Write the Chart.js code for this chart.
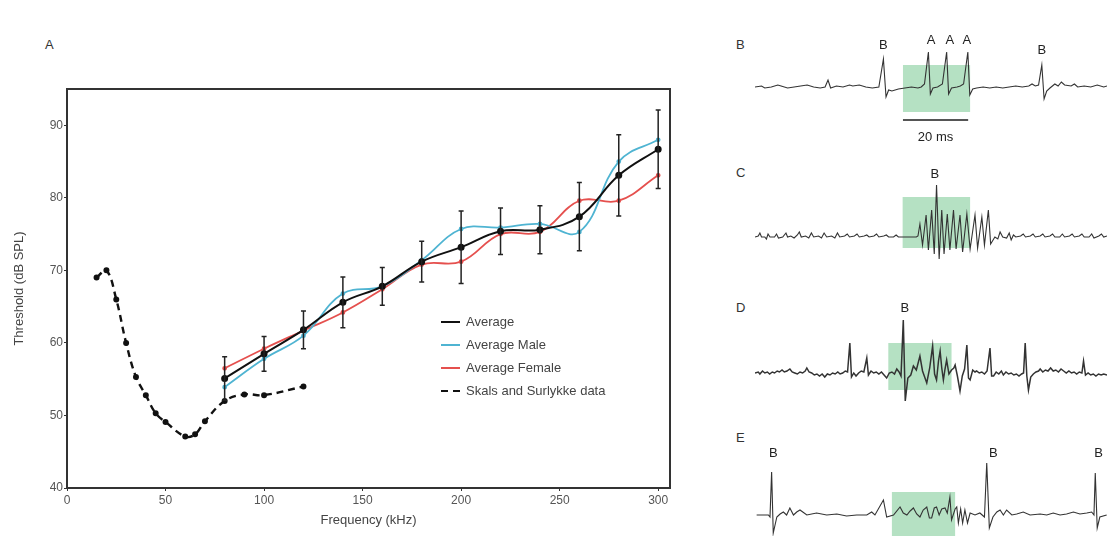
<!DOCTYPE html>
<html>
<head>
<meta charset="utf-8">
<script src="https://cdn.jsdelivr.net/npm/chart.js@4/dist/chart.umd.min.js"></script>
<style>
    body { margin: 0; background: #fff; width: 1107px; height: 536px; position: relative; overflow: hidden; font-family: Arial, "Liberation Sans", sans-serif; }
    canvas { position: absolute; }
    .panel { position: absolute; font-size: 13px; color: #333; }
</style>
</head>
<body>
<div class="panel" style="left:45px; top:37px;">A</div>
<div class="panel" style="left:736px; top:37px;">B</div>
<div class="panel" style="left:736px; top:165px;">C</div>
<div class="panel" style="left:736px; top:300px;">D</div>
<div class="panel" style="left:736px; top:430px;">E</div>

<canvas id="chart-a" width="720" height="536" style="left:0; top:0;"></canvas>
<canvas id="trace-b" width="352" height="120" style="left:755px; top:30px;"></canvas>
<canvas id="trace-c" width="352" height="120" style="left:755px; top:160px;"></canvas>
<canvas id="trace-d" width="352" height="130" style="left:755px; top:280px;"></canvas>
<canvas id="trace-e" width="352" height="126" style="left:755px; top:410px;"></canvas>

<script>
// panel A: hearing thresholds (kHz / dB SPL)
var freq = [80, 100, 120, 140, 160, 180, 200, 220, 240, 260, 280, 300];
var avgThreshold = [55.1, 58.5, 61.8, 65.6, 67.8, 71.2, 73.2, 75.4, 75.6, 77.4, 83.1, 86.7];
var avgSD = [3.0, 2.4, 2.6, 3.5, 2.6, 2.8, 5.0, 3.2, 3.3, 4.7, 5.6, 5.4];
var maleThreshold = [53.9, 57.8, 61.0, 66.8, 67.8, 71.4, 75.7, 75.9, 76.4, 75.3, 85.0, 88.0];
var femaleThreshold = [56.5, 59.2, 61.7, 64.2, 67.4, 70.8, 71.2, 75.0, 75.3, 79.6, 79.6, 83.1];
var skalsFreq = [15, 20, 25, 30, 35, 40, 45, 50, 60, 65, 70, 80, 90, 100, 120];
var skalsThreshold = [69, 70, 66, 60, 55.3, 52.8, 50.3, 49.1, 47.1, 47.4, 49.2, 52, 52.9, 52.8, 54];
var xTicks = [0, 50, 100, 150, 200, 250, 300];
var yTicks = [40, 50, 60, 70, 80, 90];

// panels B-E: recordings, time in ms, amplitude in arbitrary units
var traceB = [[0,0],[2,1],[3,-1],[5,0],[7,2],[8,1],[10,-1],[12,0],[14,1],[16,2],[18,0],[20,-1],[21.5,0],[22.4,7],[23.2,-1],[25,1],[27,0],[29,2],[30,1],[32,2],[34,0],[36,-1],[38,0],[39.4,28],[40.2,-10],[41,-3],[42,-4],[44,-2],[46,-1],[48,0],[50,-1],[51,0],[52,3],[53.2,35],[53.8,-7],[54.6,-1],[56,0],[57.5,3],[58.8,35],[59.4,-7],[60.3,-1],[62,0],[63,1],[64,3],[65.3,35],[65.9,-8],[66.8,-2],[68,-1],[70,0],[72,-1],[74,0],[76,-1],[78,0],[80,1],[82,0],[84,1],[85,3],[86,1],[87,2],[88,22],[88.7,-12],[89.5,-4],[90.5,-1],[92,3],[93,1],[94,5],[95,2],[97,1],[98,3],[99,0],[101,1],[103,0],[105,2],[107,0],[108,1]];
var traceC = [[0,0],[1,1],[1.5,4],[2,0],[3,0],[3.5,-2],[4,3],[4.6,0],[6,0],[6.6,3],[7.2,-1],[8.5,0],[9.5,4],[10,0],[11,1],[12,-1],[13,2],[13.6,5],[14.2,0],[15.5,1],[16.5,-1],[17.3,4],[18,0],[19.5,1],[20.4,-1],[21.2,4],[22,0],[23.5,1],[24.5,-1],[25.3,4],[26,0],[27.5,1],[28.3,3],[29,0],[30.5,1],[31.3,3],[32,0],[33.5,1],[34.3,2],[35,0],[36.5,1],[37.3,3],[38,0],[39.5,1],[40.3,2],[41,0],[42.5,0],[43.3,2],[44,0],[45.5,0],[49.5,0],[50,1],[50.6,13],[51.4,-8],[52.5,22],[53.2,-13],[54.2,27],[55,-17],[55.7,52],[56.5,-22],[57.3,27],[58,-17],[59,23],[59.8,-13],[60.9,27],[61.7,-12],[62.9,22],[63.7,-15],[65,23],[66,-12],[67.5,22],[68.3,-11],[69.6,20],[70.4,-8],[71.6,27],[72.3,-7],[73.6,0],[74.5,-2],[75.2,5],[76,0],[77.2,-1],[78,4],[78.6,-3],[79.3,2],[80,0],[81.5,1],[82.3,3],[83,0],[84.5,1],[85.3,3],[86,0],[87.5,1],[88.3,3],[89,0],[90.5,1],[91.3,3],[92,0],[93.5,0],[94.3,3],[95,0],[96.5,1],[97.3,3],[98,0],[99.5,1],[100.3,3],[101,0],[102.5,0],[103.3,3],[104,-1],[105.5,1],[106.3,3],[107,0],[108,1]];
var traceD = [[0,0],[1,1],[1.5,-1],[2.3,2],[3,0],[3.8,1],[4.5,-1],[5.3,1],[6,0],[6.8,2],[7.5,1],[8.3,3],[9,1],[9.8,2],[10.7,4],[11.4,1],[12.2,0],[13,-1],[13.8,1],[14.6,0],[15.4,2],[15.9,5],[16.6,1],[17.4,0],[18.2,-2],[19,-1],[19.8,-3],[20.6,-1],[21.4,-4],[22.2,-1],[23,-2],[23.8,0],[24.6,-1],[25.4,1],[26.1,-1],[26.9,0],[27.7,2],[28.4,1],[29.1,30],[29.6,-4],[30.3,0],[31,-3],[31.8,0],[32.6,2],[33.4,1],[34.3,15],[34.8,-2],[35.6,2],[36.4,0],[37.2,1],[38,-1],[38.8,1],[39.6,-2],[40.4,-5],[41.2,0],[42,1],[42.8,-1],[43.5,4],[44.2,1],[44.8,-3],[45.5,53],[46.1,-28],[46.9,-5],[47.8,-2],[48.6,7],[49.5,3],[50.6,17],[51.4,2],[52.7,-10],[53.6,5],[54.5,27],[55.1,-1],[55.7,-7],[56.3,12],[56.8,22],[57.3,5],[57.8,-7],[58.3,4],[58.8,13],[59.5,-1],[60.3,3],[61,5],[61.4,8],[62.1,-3],[62.9,-18],[63.6,-3],[64.3,4],[65,28],[65.5,-5],[66,-7],[66.8,3],[67.5,1],[68,2],[68.8,0],[69.6,1],[70.4,-1],[71.2,2],[72.1,25],[72.6,-3],[73.2,-3],[74,1],[74.8,-1],[75.6,2],[76.2,-2],[77,1],[77.8,-1],[78.6,0],[79.4,-2],[80.2,-1],[81,-3],[81.8,-1],[82.4,0],[82.9,30],[83.4,-3],[83.9,-17],[84.6,-4],[85.4,-1],[86.2,1],[87,2],[87.5,4],[88.3,1],[89.1,3],[89.9,2],[90.7,5],[91.5,2],[92.3,3],[93.1,1],[93.9,4],[94.7,2],[95.5,0],[96.3,2],[97.1,0],[97.9,1],[98.7,-1],[99.5,1],[100.3,0],[100.8,12],[101.4,-2],[102.2,0],[103,-2],[103.8,-1],[104.6,-3],[105.4,-1],[106.2,-2],[107,-1],[108,-2]];
var traceE = [[0.5,0],[4.1,0],[4.6,-2],[5.1,43],[5.6,-18],[6.7,-2],[7.7,1],[8.7,3],[9.7,0],[10.7,7],[11.8,0],[12.8,3],[13.8,5],[15.9,0],[18.9,2],[22,0],[25.1,1],[28.1,-1],[31.2,0],[34.3,0],[35.8,3],[36.8,0],[39.4,15],[40.4,-2],[42.5,0],[44.5,8],[45.5,2],[46.6,0],[47.6,4],[48.6,7],[49.6,1],[50.6,-2],[51.6,5],[52.7,8],[53.5,-3],[54.2,-3],[55,7],[55.7,8],[56.5,0],[57.3,6],[58.3,7],[59,2],[59.8,18],[60.3,-5],[61.4,6],[61.9,8],[62.4,-8],[63.1,6],[63.7,-8],[64.4,5],[65.2,-8],[66,2],[67.5,0],[69,2],[70.4,-2],[71.1,52],[71.9,-13],[73,-2],[74.2,3],[75.2,5],[76.2,0],[77.2,5],[78.8,0],[80.3,1],[82.3,3],[84.4,0],[87.5,1],[89.5,0],[91.5,2],[93.6,0],[95.6,1],[97.7,3],[99.7,1],[101.8,2],[103.3,3],[104,0],[104.4,42],[105,-13],[105.8,-2],[107.9,0]];

// stimulus windows [start ms, end ms, top, bottom]
var windowB = [45.4, 66, 22, -25];
var windowC = [45.3, 66, 40, -11];
var windowD = [40.9, 60.3, 30, -17];
var windowE = [42.0, 61.4, 23, -21];

// spike labels [ms, height, text]
var labelsB = [[39.4, 42, "B"], [54, 47, "A"], [59.8, 47, "A"], [65, 47, "A"], [88, 37, "B"]];
var labelsC = [[55.2, 63, "B"]];
var labelsD = [[46, 65, "B"]];
var labelsE = [[5.6, 62, "B"], [73.1, 62, "B"], [105.4, 62, "B"]];

var scaleBarB = [45.4, 65.4, -33];   // 20 ms bar

var FONT = 'Arial, "Liberation Sans", sans-serif';

function pts(xs, ys) {
    return xs.map(function (x, i) { return { x: x, y: ys[i] }; });
}

var errorBars = {
    id: "errorBars",
    afterDatasetsDraw: function (chart) {
        var ctx = chart.ctx, x = chart.scales.x, y = chart.scales.y;
        ctx.save();
        ctx.strokeStyle = "#222";
        ctx.lineWidth = 1.5;
        for (var i = 0; i < freq.length; i++) {
            var px = x.getPixelForValue(freq[i]);
            var top = y.getPixelForValue(avgThreshold[i] + avgSD[i]);
            var bot = y.getPixelForValue(avgThreshold[i] - avgSD[i]);
            ctx.beginPath();
            ctx.moveTo(px, top); ctx.lineTo(px, bot);
            ctx.moveTo(px - 2.5, top); ctx.lineTo(px + 2.5, top);
            ctx.moveTo(px - 2.5, bot); ctx.lineTo(px + 2.5, bot);
            ctx.stroke();
        }
        ctx.restore();
    }
};

var frameAndLegend = {
    id: "frameAndLegend",
    afterDraw: function (chart) {
        var ctx = chart.ctx, a = chart.chartArea;
        ctx.save();
        ctx.strokeStyle = "#333";
        ctx.lineWidth = 2;
        ctx.strokeRect(a.left, a.top, a.right - a.left, a.bottom - a.top);
        // legend
        ctx.font = "13px " + FONT;
        ctx.textBaseline = "middle";
        chart.data.datasets.forEach(function (ds, i) {
            var ly = 322 + i * 23;
            ctx.strokeStyle = ds.borderColor;
            ctx.lineWidth = 2;
            ctx.setLineDash(ds.borderDash || []);
            ctx.beginPath();
            ctx.moveTo(441, ly); ctx.lineTo(460, ly);
            ctx.stroke();
            ctx.setLineDash([]);
            ctx.fillStyle = "#444";
            ctx.fillText(ds.label, 466, ly);
        });
        ctx.restore();
    }
};

new Chart("chart-a", {
    type: "line",
    data: {
        datasets: [{
            label: "Average",
            data: pts(freq, avgThreshold),
            borderColor: "#111",
            backgroundColor: "#111",
            borderWidth: 2,
            pointRadius: 2.5,
            tension: 0.4
        },
        {
            label: "Average Male",
            data: pts(freq, maleThreshold),
            borderColor: "#4fb4d2",
            backgroundColor: "#4fb4d2",
            borderWidth: 1.8,
            pointRadius: 1.5,
            tension: 0.4
        },
        {
            label: "Average Female",
            data: pts(freq, femaleThreshold),
            borderColor: "#e5504e",
            backgroundColor: "#e5504e",
            borderWidth: 1.8,
            pointRadius: 1.5,
            tension: 0.4
        },
        {
            label: "Skals and Surlykke data",
            data: pts(skalsFreq, skalsThreshold),
            borderColor: "#111",
            backgroundColor: "#111",
            borderWidth: 2.4,
            borderDash: [7, 5],
            pointRadius: 1.8,
            tension: 0.4
        }]
    },
    options: {
        responsive: false,
        animation: false,
        layout: { padding: { top: 89, right: 50, left: 0, bottom: 0 } },
        plugins: { legend: { display: false }, tooltip: { enabled: false } },
        scales: {
            x: {
                type: "linear",
                min: 0,
                max: 306,
                grid: { drawOnChartArea: false, tickLength: 3, color: "#333" },
                border: { display: false },
                afterFit: function (s) { s.height = 48; },
                afterBuildTicks: function (s) { s.ticks = xTicks.map(function (v) { return { value: v }; }); },
                ticks: { color: "#555", font: { size: 12, family: FONT }, padding: 2, maxRotation: 0 },
                title: { display: true, text: "Frequency (kHz)", color: "#444", font: { size: 13, family: FONT }, padding: { top: 0, bottom: 8 } }
            },
            y: {
                min: 40,
                max: 95,
                grid: { drawOnChartArea: false, tickLength: 3, color: "#333" },
                border: { display: false },
                afterFit: function (s) { s.width = 67; },
                afterBuildTicks: function (s) { s.ticks = yTicks.map(function (v) { return { value: v }; }); },
                ticks: { color: "#555", font: { size: 12, family: FONT }, padding: 1 },
                title: { display: true, text: "Threshold (dB SPL)", color: "#444", font: { size: 13, family: FONT }, padding: { top: 12, bottom: 0 } }
            }
        }
    },
    plugins: [errorBars, frameAndLegend]
});

function traceChart(id, trace, win, labels, yMin, yMax, bar, width) {
    var overlay = {
        id: "overlay-" + id,
        beforeDatasetsDraw: function (chart) {
            var ctx = chart.ctx, x = chart.scales.x, y = chart.scales.y;
            var x1 = x.getPixelForValue(win[0]), x2 = x.getPixelForValue(win[1]);
            var y1 = y.getPixelForValue(win[2]), y2 = y.getPixelForValue(win[3]);
            ctx.save();
            ctx.fillStyle = "rgba(120, 200, 145, 0.55)";
            ctx.fillRect(x1, y1, x2 - x1, y2 - y1);
            ctx.restore();
        },
        afterDatasetsDraw: function (chart) {
            var ctx = chart.ctx, x = chart.scales.x, y = chart.scales.y;
            ctx.save();
            ctx.fillStyle = "#222";
            ctx.font = "13px " + FONT;
            ctx.textAlign = "center";
            ctx.textBaseline = "middle";
            labels.forEach(function (l) {
                ctx.fillText(l[2], x.getPixelForValue(l[0]), y.getPixelForValue(l[1]));
            });
            if (bar) {
                var by = y.getPixelForValue(bar[2]);
                ctx.strokeStyle = "#555";
                ctx.lineWidth = 2;
                ctx.beginPath();
                ctx.moveTo(x.getPixelForValue(bar[0]), by);
                ctx.lineTo(x.getPixelForValue(bar[1]), by);
                ctx.stroke();
                ctx.fillText("20 ms", x.getPixelForValue((bar[0] + bar[1]) / 2), y.getPixelForValue(bar[2] - 17));
            }
            ctx.restore();
        }
    };
    return new Chart(id, {
        type: "line",
        data: {
            datasets: [{
                data: trace.map(function (p) { return { x: p[0], y: p[1] }; }),
                borderColor: "#333",
                borderWidth: width,
                pointRadius: 0,
                tension: 0
            }]
        },
        options: {
            responsive: false,
            animation: false,
            layout: { padding: 0 },
            plugins: { legend: { display: false }, tooltip: { enabled: false } },
            scales: {
                x: { type: "linear", display: false, min: 0, max: 108 },
                y: { display: false, min: yMin, max: yMax }
            }
        },
        plugins: [overlay]
    });
}

traceChart("trace-b", traceB, windowB, labelsB, -63, 57, scaleBarB, 1.1);
traceChart("trace-c", traceC, windowC, labelsC, -43, 77, null, 1.1);
traceChart("trace-d", traceD, windowD, labelsD, -37, 93, null, 1.5);
traceChart("trace-e", traceE, windowE, labelsE, -21, 105, null, 1.1);
</script>
</body>
</html>
